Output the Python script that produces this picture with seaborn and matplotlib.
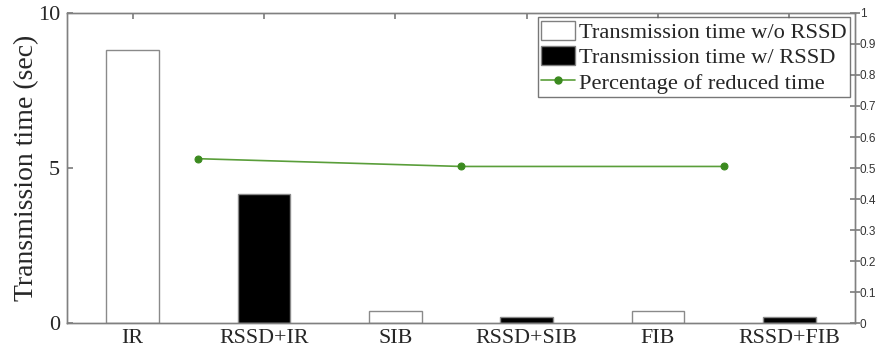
import matplotlib
matplotlib.use("Agg")
import matplotlib.pyplot as plt
import seaborn as sns
import pandas as pd
from matplotlib.patches import Patch
from matplotlib.lines import Line2D

categories = ["IR", "RSSD+IR", "SIB", "RSSD+SIB", "FIB", "RSSD+FIB"]
time_values = [8.8, 4.15, 0.4, 0.19, 0.38, 0.19]
series_type = ["Transmission time w/o RSSD", "Transmission time w/ RSSD",
               "Transmission time w/o RSSD", "Transmission time w/ RSSD",
               "Transmission time w/o RSSD", "Transmission time w/ RSSD"]
pct_x = [0.5, 2.5, 4.5]
pct_values = [0.53, 0.505, 0.505]
left_ticks = [0, 5, 10]
right_ticks = [0, 0.1, 0.2, 0.3, 0.4, 0.5, 0.6, 0.7, 0.8, 0.9, 1]
right_ticklabels = ["0", "0.1", "0.2", "0.3", "0.4", "0.5", "0.6", "0.7", "0.8", "0.9", "1"]

sns.set_theme(style="white")
plt.rcParams["font.family"] = ["Liberation Serif", "DejaVu Serif"]

df = pd.DataFrame({"cat": categories, "val": time_values, "type": series_type})
pct_df = pd.DataFrame({"x": pct_x, "pct": pct_values})

fig = plt.figure(figsize=(8.77, 3.55), dpi=100)
ax = fig.add_axes([0.0764, 0.0901, 0.8985, 0.8733])

gray = "#808080"
sns.barplot(data=df, x="cat", y="val", hue="type", dodge=False, width=0.4,
            palette={"Transmission time w/o RSSD": "white",
                     "Transmission time w/ RSSD": "black"},
            edgecolor="#8a8a8a", linewidth=1.0, ax=ax, legend=False)
ax.set_xlim(-0.5, 5.5)
ax.set_ylim(0, 10)
ax.set_yticks(left_ticks)
ax.set_yticklabels([str(t) for t in left_ticks])
ax.set_xlabel("")
ax.set_ylabel("Transmission time (sec)", fontsize=20, labelpad=-1)
ax.tick_params(axis="y", direction="in", length=4, color=gray, labelsize=16,
               left=True, right=False, pad=5)
ax.tick_params(axis="x", direction="in", length=4, color=gray, labelsize=15.8,
               bottom=True, top=True, pad=4)
for s in ax.spines.values():
    s.set_color(gray)
    s.set_linewidth(1.0)

ax2 = ax.twinx()
sns.lineplot(data=pct_df, x="x", y="pct", ax=ax2, color="#5a9e3a", linewidth=1.2,
             marker="o", markersize=5, markerfacecolor="#3b8a1f",
             markeredgecolor="#3b8a1f")
ax2.set_ylim(0, 1)
ax2.set_xlim(-0.5, 5.5)
ax2.set_yticks(right_ticks)
ax2.set_yticklabels(right_ticklabels, family=["Liberation Sans", "DejaVu Sans"])
ax2.set_ylabel("")
ax2.tick_params(axis="y", direction="inout", length=7, color=gray, labelsize=8.5,
                labelcolor="#333333", pad=0)
for s in ax2.spines.values():
    s.set_color(gray)
    s.set_linewidth(1.0)

handles = [
    Patch(facecolor="white", edgecolor=gray, linewidth=1.0),
    Patch(facecolor="black", edgecolor=gray, linewidth=1.0),
    Line2D([0], [0], color="#5a9e3a", linewidth=1.2, marker="o", markersize=5,
           markerfacecolor="#3b8a1f", markeredgecolor="#3b8a1f"),
]
labels = ["Transmission time w/o RSSD", "Transmission time w/ RSSD",
          "Percentage of reduced time"]
leg = ax2.legend(handles, labels, loc="upper right", fontsize=16.2, frameon=True,
                 fancybox=False, edgecolor="#555555", borderpad=0.15,
                 labelspacing=0.12, handlelength=1.5, handleheight=0.95,
                 handletextpad=0.2, borderaxespad=0.2)
leg.get_frame().set_linewidth(1.0)

fig.savefig("out.png", dpi=100)
